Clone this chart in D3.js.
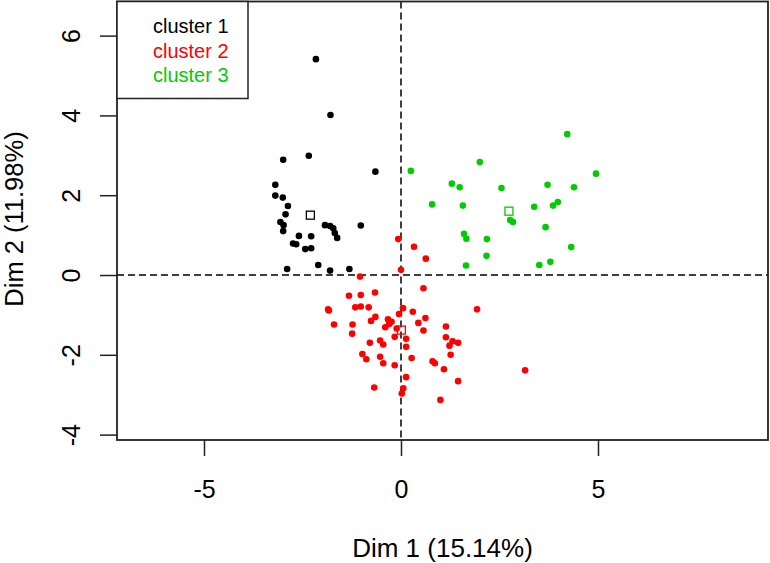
<!DOCTYPE html>
<html>
<head>
<meta charset="utf-8">
<script src="https://cdn.jsdelivr.net/npm/d3@7"></script>
<style>
  body { margin: 0; background: #fff; }
  svg { display: block; font-family: "Liberation Sans", Arial, sans-serif; }
</style>
</head>
<body>
<script>
// individuals per cluster, [Dim 1, Dim 2]
const cluster1 = [
  [-2.16, 5.41], [-1.79, 4.01], [-2.99, 2.89], [-2.34, 2.99], [-0.65, 2.59],
  [-3.19, 2.26], [-3.19, 1.99], [-3.00, 1.94], [-2.87, 1.73], [-2.93, 1.52],
  [-3.06, 1.33], [-2.98, 1.25], [-2.99, 1.10], [-2.59, 0.98], [-2.28, 0.97],
  [-2.74, 0.79], [-2.66, 0.77], [-2.43, 0.65], [-2.28, 0.67], [-1.93, 1.25],
  [-1.80, 1.23], [-1.72, 1.17], [-1.68, 1.05], [-1.62, 0.93], [-1.02, 1.24],
  [-2.89, 0.15], [-2.10, 0.25], [-1.80, 0.11], [-1.31, 0.15]
];
const cluster2 = [
  [-0.07, 0.90], [0.33, 0.71], [0.63, 0.41], [0.00, 0.13], [-1.04, -0.04],
  [0.57, -0.33], [-1.32, -0.52], [-1.02, -0.50], [-0.66, -0.44], [-1.85, -0.86],
  [-1.83, -0.89], [-1.16, -0.81], [-1.02, -0.79], [-0.82, -0.81], [0.05, -0.83],
  [-0.05, -0.98], [0.30, -0.92], [0.62, -1.08], [1.93, -0.86], [-0.65, -1.05],
  [-0.76, -1.15], [-1.70, -1.24], [-1.23, -1.24], [-0.33, -1.11], [-0.24, -1.17],
  [-0.30, -1.23], [-0.40, -1.31], [0.44, -1.20], [-0.11, -1.34], [0.57, -1.39],
  [1.14, -1.29], [-1.24, -1.47], [-0.16, -1.55], [0.13, -1.60], [1.14, -1.56],
  [-0.53, -1.64], [-0.45, -1.74], [-0.79, -1.70], [1.31, -1.66], [1.45, -1.70],
  [1.23, -1.77], [0.13, -1.80], [-0.98, -1.98], [-0.88, -2.11], [-0.53, -2.05],
  [-0.45, -2.21], [-0.16, -2.26], [0.27, -2.08], [0.80, -2.16], [0.86, -2.21],
  [1.26, -2.00], [1.09, -2.36], [3.15, -2.39], [0.13, -2.56], [1.45, -2.66],
  [-0.68, -2.82], [0.06, -2.84], [0.02, -2.97], [1.00, -3.13]
];
const cluster3 = [
  [4.22, 3.53], [2.00, 2.83], [0.25, 2.61], [4.95, 2.54], [1.29, 2.29],
  [1.49, 2.20], [2.55, 2.18], [3.72, 2.26], [4.39, 2.20], [0.79, 1.77],
  [1.57, 1.74], [3.38, 1.71], [3.86, 1.74], [3.98, 1.83], [2.77, 1.38],
  [2.84, 1.33], [3.67, 1.20], [1.60, 1.03], [1.66, 0.91], [2.18, 0.90],
  [4.32, 0.70], [2.17, 0.48], [1.65, 0.24], [3.51, 0.25], [3.79, 0.33]
];
const centers = [[-2.30, 1.50], [0.01, -1.38], [2.74, 1.60]];
const clusterNames = ["cluster 1", "cluster 2", "cluster 3"];
const colors = ["#000000", "#ff0000", "#00cd00"];
const xTicks = [-5, 0, 5];
const yTicks = [-4, -2, 0, 2, 4, 6];

const width = 770, height = 563;
const plotLeft = 117, plotRight = 768, plotTop = 1.5, plotBottom = 440;

const svg = d3.select("body").append("svg")
  .attr("width", width)
  .attr("height", height);

const x = d3.scaleLinear().domain([-7.208, 9.315]).range([plotLeft, plotRight]);
const y = d3.scaleLinear().domain([-4.135, 6.855]).range([plotBottom, plotTop]);

// dashed reference lines through origin
svg.append("line")
  .attr("x1", x(0)).attr("x2", x(0)).attr("y1", plotTop).attr("y2", plotBottom)
  .attr("stroke", "#000").attr("stroke-width", 1.5).attr("stroke-dasharray", "7,4");
svg.append("line")
  .attr("x1", plotLeft).attr("x2", plotRight).attr("y1", y(0)).attr("y2", y(0))
  .attr("stroke", "#000").attr("stroke-width", 1.5).attr("stroke-dasharray", "7,4");

// points
[cluster1, cluster2, cluster3].forEach((pts, i) => {
  svg.append("g").selectAll("circle")
    .data(pts)
    .enter()
    .append("circle")
    .attr("cx", d => x(d[0]))
    .attr("cy", d => y(d[1]))
    .attr("r", 3.3)
    .attr("fill", colors[i]);
});

// cluster centres as open squares
svg.append("g").selectAll("rect")
  .data(centers)
  .enter()
  .append("rect")
  .attr("x", d => x(d[0]) - 4)
  .attr("y", d => y(d[1]) - 4)
  .attr("width", 8)
  .attr("height", 8)
  .attr("fill", "none")
  .attr("stroke", (d, i) => colors[i])
  .attr("stroke-width", 1.3);

// axes (plain hyphen for negatives, like R)
const xAxis = svg.append("g")
  .attr("transform", `translate(0, ${plotBottom})`)
  .call(d3.axisBottom(x).tickValues(xTicks).tickSize(16).tickFormat(d => String(d)));
xAxis.select(".domain").remove();
xAxis.selectAll("line").attr("stroke", "#222").attr("stroke-width", 1.5);
xAxis.selectAll("text")
  .attr("y", 58).attr("dy", 0)
  .attr("font-size", 25).attr("font-family", "Liberation Sans, Arial, sans-serif")
  .attr("fill", "#000");

const yAxis = svg.append("g")
  .attr("transform", `translate(${plotLeft}, 0)`)
  .call(d3.axisLeft(y).tickValues(yTicks).tickSize(17).tickFormat(d => String(d)));
yAxis.select(".domain").remove();
yAxis.selectAll("line").attr("stroke", "#222").attr("stroke-width", 1.5);
yAxis.selectAll("text")
  .attr("transform", "rotate(-90)")
  .attr("x", 0).attr("y", -37).attr("dy", 0)
  .attr("text-anchor", "middle")
  .attr("font-size", 25).attr("font-family", "Liberation Sans, Arial, sans-serif")
  .attr("fill", "#000");

// plot frame
svg.append("rect")
  .attr("x", plotLeft).attr("y", plotTop)
  .attr("width", plotRight - plotLeft).attr("height", plotBottom - plotTop)
  .attr("fill", "none").attr("stroke", "#222").attr("stroke-width", 1.8);

// axis titles
svg.append("text")
  .attr("x", (plotLeft + plotRight) / 2).attr("y", 557)
  .attr("text-anchor", "middle").attr("font-size", 26)
  .text("Dim 1 (15.14%)");
svg.append("text")
  .attr("transform", `translate(23, 219) rotate(-90)`)
  .attr("text-anchor", "middle").attr("font-size", 25.5)
  .text("Dim 2 (11.98%)");

// legend
const legend = svg.append("g");
legend.append("rect")
  .attr("x", plotLeft).attr("y", plotTop)
  .attr("width", 131).attr("height", 97)
  .attr("fill", "#fff").attr("stroke", "#222").attr("stroke-width", 1.5);
legend.selectAll("text")
  .data(clusterNames)
  .enter()
  .append("text")
  .attr("x", 153)
  .attr("y", (d, i) => 33 + i * 24.5)
  .attr("font-size", 20)
  .attr("fill", (d, i) => colors[i])
  .text(d => d);
</script>
</body>
</html>
